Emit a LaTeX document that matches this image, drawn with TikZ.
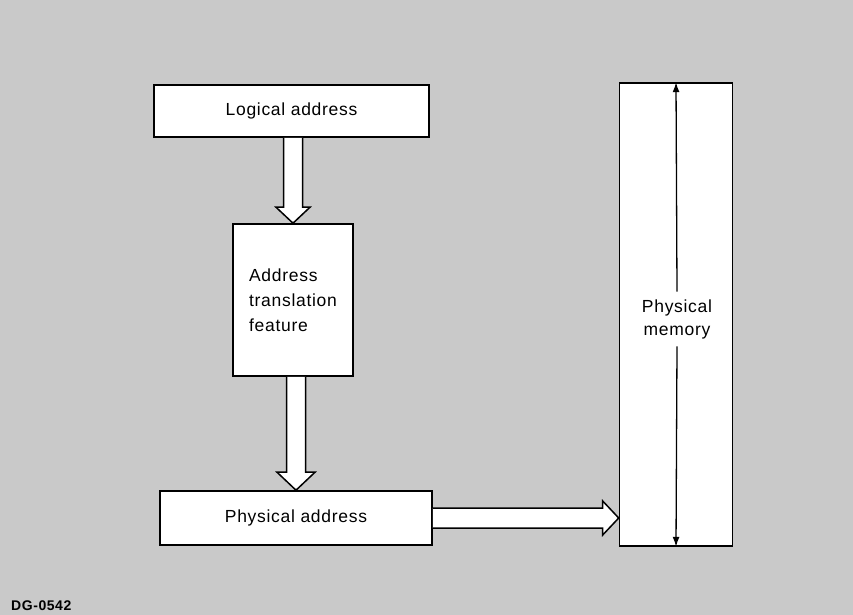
\documentclass[tikz,border=0pt]{standalone}
\usepackage{fontspec}
\setmainfont{Liberation Sans}[LetterSpace=4]
\usetikzlibrary{arrows.meta,calc}

\tikzset{
  box/.style={draw=black, fill=white, line width=1.6pt, inner sep=0pt,
              font=\fontsize{17.5}{25}\selectfont},
  blockarrow/.style={draw=black, fill=white, line width=1.5pt, line join=miter},
  dimline/.style={draw=black, line width=1.3pt, -{Latex[length=10pt,width=7pt]}},
}

\begin{document}
\begin{tikzpicture}[x=1pt, y=-1pt]
  % halftone-grey page
  \fill[black!21] (0,0) rectangle (853,615);
  \useasboundingbox (0,0) rectangle (853,615);

  % blocks
  \node[box, minimum width=275pt, minimum height=52pt] (logical) at (291.5,111) {Logical address};
  \node[box, minimum width=120pt, minimum height=152pt, align=left] (trans) at (293,300)
       {Address\\translation\\feature};
  \node[box, minimum width=272pt, minimum height=54pt] (phys) at (296,518) {Physical address};
  \node[box, minimum width=113pt, minimum height=463pt] (mem) at (676,314.5) {};
  \node[font=\fontsize{17.5}{23}\selectfont, align=center, inner xsep=0pt, inner ysep=7.5pt]
       (memtext) at (677,319) {Physical\\memory};

  % wide hollow arrows between blocks
  \draw[blockarrow] let \p1=(logical.south), \p2=(trans.north) in
    (\x2-9.5pt,\y1) -- (\x2-9.5pt,\y2+16pt) -- (\x2-17pt,\y2+16pt) -- (\x2,\y2)
    -- (\x2+17pt,\y2+16pt) -- (\x2+9.5pt,\y2+16pt) -- (\x2+9.5pt,\y1);
  \draw[blockarrow] let \p1=(trans.south), \p2=(phys.north) in
    (\x2-9.5pt,\y1) -- (\x2-9.5pt,\y2+18pt) -- (\x2-19pt,\y2+18pt) -- (\x2,\y2)
    -- (\x2+19pt,\y2+18pt) -- (\x2+9.5pt,\y2+18pt) -- (\x2+9.5pt,\y1);
  \draw[blockarrow] let \p1=(phys.east), \p2=(mem.west |- phys.east) in
    (\x1,\y1+10pt) -- (\x2-16pt,\y1+10pt) -- (\x2-16pt,\y1+17pt) -- (\x2,\y1)
    -- (\x2-16pt,\y1-17pt) -- (\x2-16pt,\y1-10pt) -- (\x1,\y1-10pt);

  % extent of physical memory
  \draw[dimline] (memtext.north) -- (mem.north);
  \draw[dimline] (memtext.south) -- (mem.south);

  % figure number
  \node[anchor=base west, inner sep=0pt, font=\fontsize{14}{16}\bfseries\selectfont]
       (fignum) at (11,610) {DG-0542};
\end{tikzpicture}
\end{document}
